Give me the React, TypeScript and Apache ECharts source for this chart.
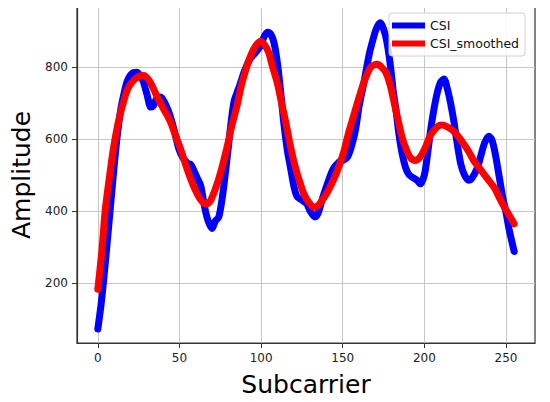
import React, { useEffect, useRef } from "react";
import * as echarts from "echarts";

const xTicks = [0, 50, 100, 150, 200, 250];
const yTicks = [200, 400, 600, 800];

const csi: [number, number][] = [
  [0, 72], [2, 140], [3.4, 200], [5.5, 300], [7.5, 400], [9.5, 500], [11.7, 600], [14, 680],
  [16, 725], [18, 760], [20, 777], [22, 784], [24, 785], [26, 775], [28, 757], [30, 725],
  [32.5, 688], [34, 692], [36, 711], [38.5, 716], [41, 700], [44, 668], [47, 620], [49.5, 574],
  [52, 548], [55, 532], [57, 528], [59, 510], [61, 490], [63, 470], [65, 420], [67, 380],
  [70, 351], [72, 372], [74, 382], [76, 430], [78, 500], [80, 580], [82, 660], [83.5, 705],
  [85, 725], [87, 750], [90, 790], [93, 820], [96.5, 839], [99.5, 857], [102, 885], [104, 896],
  [106, 890], [108, 865], [110, 810], [112, 730], [114, 640], [116, 570], [118, 520], [120, 470],
  [122, 440], [125, 430], [128, 419], [130, 400], [133, 383], [135, 395], [138, 440], [141, 480],
  [144, 515], [147.5, 535], [150, 540], [153, 550], [156, 590], [158, 630], [160, 690], [163, 757],
  [166, 830], [168, 867], [170.5, 905], [173, 922], [175, 905], [177, 870], [179, 810], [181, 730],
  [182.5, 684], [184.5, 610], [186.5, 556], [188.5, 520], [190.5, 501], [193, 492], [195.5, 485],
  [197.5, 475], [200, 500], [202, 560], [204, 630], [206, 686], [208, 730], [210, 758], [212, 766],
  [214, 740], [216, 700], [218, 650], [220, 590], [222.3, 530], [224.5, 500], [227, 485], [229, 490],
  [232.5, 520], [235, 560], [237, 590], [239.5, 607], [241.5, 595], [243.5, 556], [246, 490],
  [248, 437], [250, 395], [252, 346], [255, 287],
];

const csiSmoothed: [number, number][] = [
  [0, 182], [2.5, 290], [4.5, 400], [7, 490], [9.6, 574], [12.5, 645], [15.7, 702], [18.5, 740],
  [21.8, 762], [25, 773], [28, 776], [31, 765], [33.5, 745], [36, 720], [40, 685], [44.4, 648],
  [47.5, 610], [50.5, 574], [53.5, 532], [56.6, 492], [59.5, 460], [62.8, 432], [66, 418], [69, 428],
  [73, 474], [76, 520], [79, 574], [82, 635], [85.3, 693], [88, 750], [91.4, 803], [94, 835],
  [96.5, 857], [99.6, 871], [102, 862], [104.7, 839], [107, 800], [109.8, 757], [112.5, 700],
  [115, 648], [117.5, 590], [120, 538], [123, 490], [126.2, 447], [129, 425], [132.3, 410],
  [135, 415], [137.5, 430], [140.5, 451], [143.5, 478], [146.6, 510], [150.7, 565], [153.5, 615],
  [156.8, 666], [160, 715], [163, 757], [167, 798], [171.2, 807], [173.5, 800], [176.3, 785],
  [179, 750], [181.4, 702], [184, 650], [186.5, 602], [189, 570], [191.6, 547], [194.7, 540],
  [197.5, 550], [200, 570], [203.9, 611], [208, 634], [211, 638], [214.5, 632], [218.2, 620],
  [221, 605], [224.3, 584], [227.5, 562], [230.4, 538], [233.5, 520], [236.6, 501], [239.5, 484],
  [242.7, 465], [245, 445], [247.9, 419], [251, 395], [255, 364],
];

const FONT = "DejaVu Sans";

export default function App() {
  const ref = useRef<HTMLDivElement>(null);
  useEffect(() => {
    if (!ref.current) return;
    const chart = echarts.init(ref.current, null, { renderer: "svg" });
    chart.setOption({
      animation: false,
      backgroundColor: "#ffffff",
      grid: {
        left: 77,
        right: 15,
        top: 7,
        bottom: 55,
        show: true,
        borderColor: "#333333",
        borderWidth: 1.2,
      },
      legend: {
        left: 389,
        top: 13,
        orient: "vertical",
        itemWidth: 33,
        itemHeight: 6,
        itemGap: 5,
        padding: [6, 6, 6, 3],
        backgroundColor: "rgba(255,255,255,0.85)",
        borderColor: "#d0d0d0",
        borderWidth: 1,
        borderRadius: 3,
        textStyle: { fontFamily: FONT, fontSize: 12.5, color: "#111", padding: [0, 0, 0, 0] },
        data: [
          { name: "CSI", icon: "rect" },
          { name: "CSI_smoothed", icon: "rect" },
        ],
      },
      xAxis: {
        type: "value",
        min: -12.75,
        max: 267.75,
        name: "Subcarrier",
        nameLocation: "middle",
        nameGap: 29,
        nameTextStyle: { fontFamily: FONT, fontSize: 25, color: "#000" },
        axisLine: { show: true, onZero: false, lineStyle: { color: "#333333", width: 1.2 } },
        axisTick: { show: true, customValues: xTicks, length: 5, lineStyle: { color: "#333" } },
        axisLabel: {
          customValues: xTicks,
          margin: 9,
          fontFamily: FONT,
          fontSize: 12,
          color: "#222",
        },
        splitLine: { show: true, lineStyle: { color: "#c6c6c6", width: 1 } },
      },
      yAxis: {
        type: "value",
        min: 33,
        max: 966,
        name: "Amplitude",
        nameLocation: "middle",
        nameGap: 41,
        nameTextStyle: { fontFamily: FONT, fontSize: 25, color: "#000" },
        axisLine: { show: true, onZero: false, lineStyle: { color: "#333333", width: 1.2 } },
        axisTick: { show: true, customValues: yTicks, length: 5, lineStyle: { color: "#333" } },
        axisLabel: {
          customValues: yTicks,
          margin: 9,
          fontFamily: FONT,
          fontSize: 12,
          color: "#222",
        },
        splitLine: { show: true, lineStyle: { color: "#c6c6c6", width: 1 } },
      },
      series: [
        {
          name: "CSI",
          type: "line",
          data: csi,
          smooth: 0.3,
          showSymbol: false,
          lineStyle: { color: "#0000ff", width: 7, cap: "round", join: "round" },
          itemStyle: { color: "#0000ff" },
          z: 2,
        },
        {
          name: "CSI_smoothed",
          type: "line",
          data: csiSmoothed,
          smooth: 0.3,
          showSymbol: false,
          lineStyle: { color: "#ff0000", width: 7, cap: "round", join: "round" },
          itemStyle: { color: "#ff0000" },
          z: 3,
        },
      ],
    });
    return () => chart.dispose();
  }, []);
  return <div ref={ref} style={{ width: 550, height: 402, margin: -8 }} />;
}
